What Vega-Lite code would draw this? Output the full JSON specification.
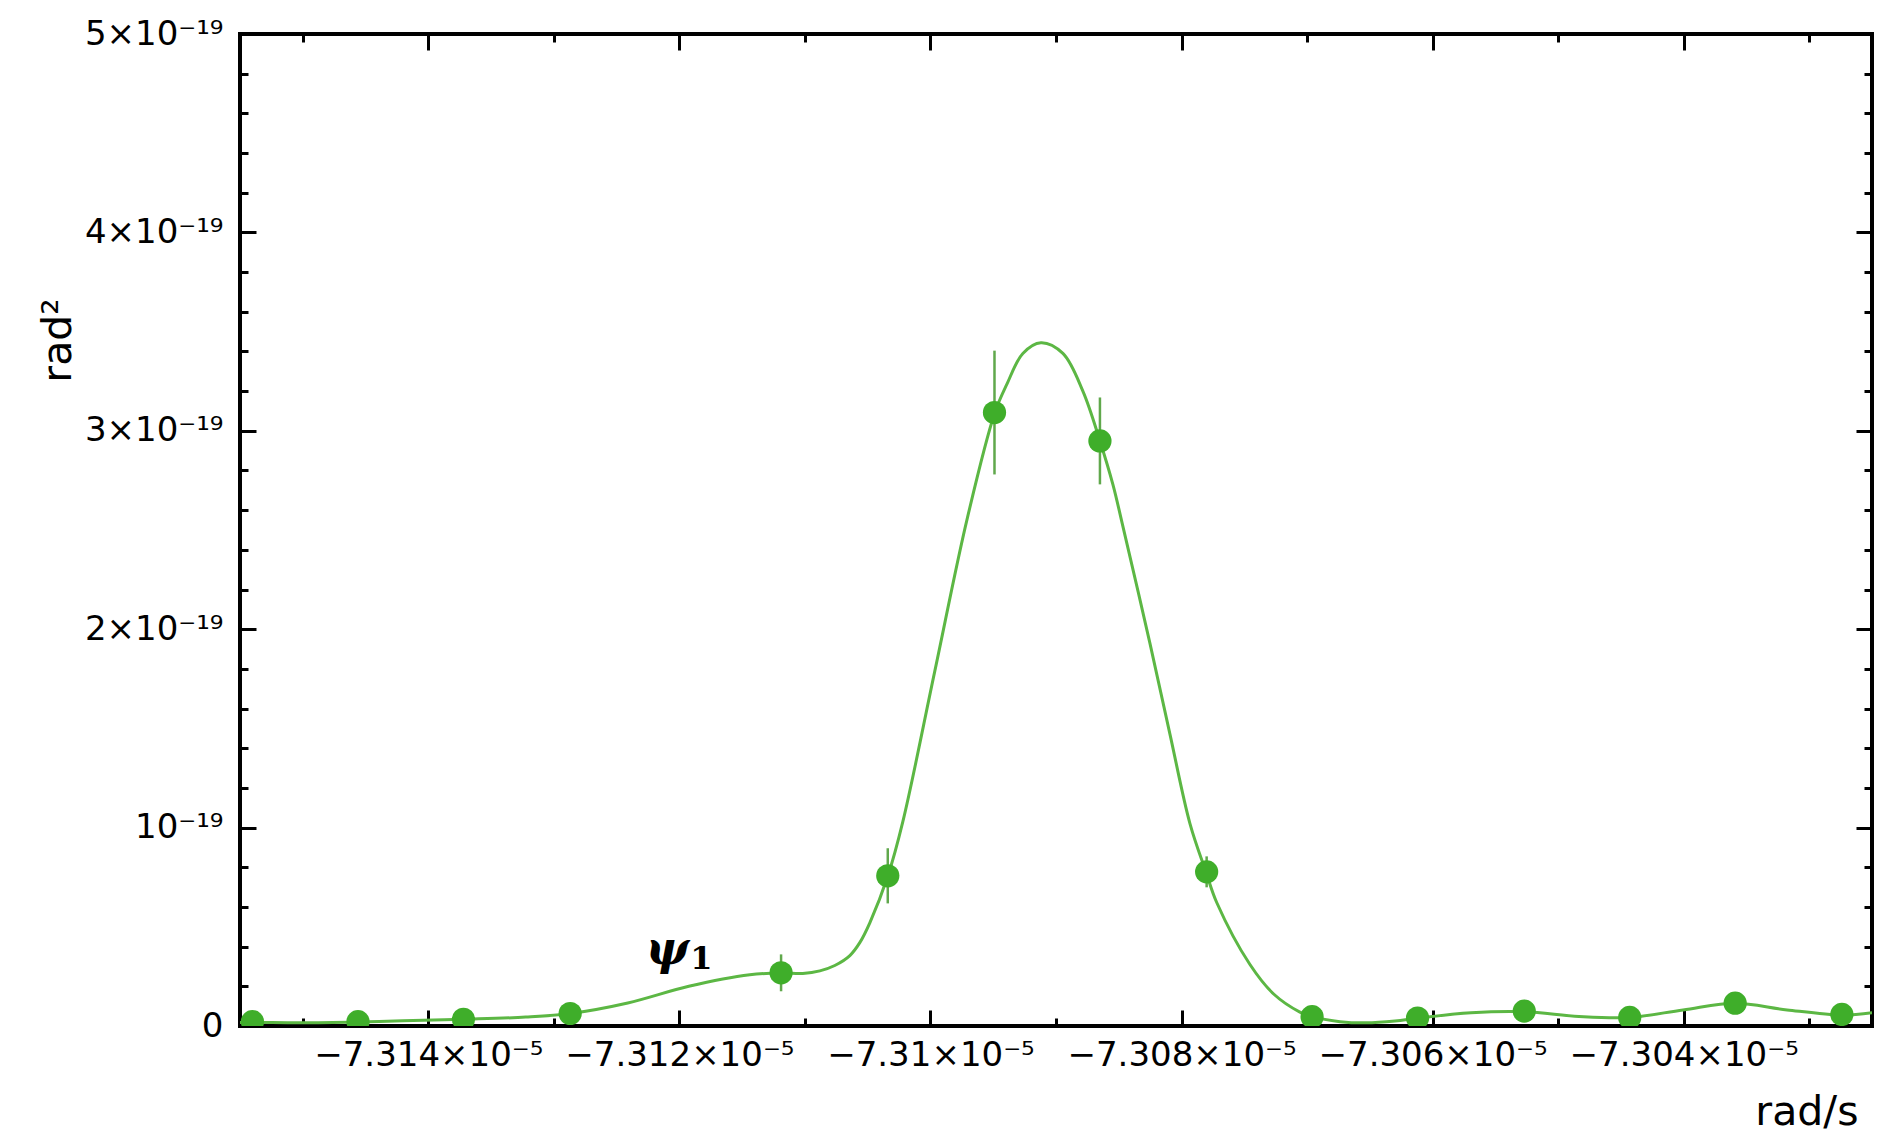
{
  "$schema": "https://vega.github.io/schema/vega-lite/v6.json",
  "width": 1632,
  "height": 992,
  "autosize": {"type": "none"},
  "padding": {"left": 240, "top": 34, "right": 7, "bottom": 107},
  "background": "white",
  "config": {
    "view": {"stroke": "#000000", "strokeWidth": 4},
    "axis": {
      "domain": false, "grid": false, "tickColor": "#000000", "tickWidth": 3,
      "labelFont": "DejaVu Sans", "labelFontSize": 34, "labelColor": "#000000", "labelLimit": 0,
      "titleFont": "DejaVu Sans", "titleFontSize": 41, "titleFontWeight": "normal", "titleColor": "#000000",
      "labelFlush": false, "labelOverlap": false
    }
  },
  "datasets": {
    "points": [
      {"x": -7.315401e-5, "y": 2.2e-21},
      {"x": -7.31456e-5, "y": 2.2e-21},
      {"x": -7.31372e-5, "y": 3.4e-21},
      {"x": -7.31287e-5, "y": 6.3e-21},
      {"x": -7.31119e-5, "y": 2.68e-20},
      {"x": -7.31034e-5, "y": 7.57e-20},
      {"x": -7.30949e-5, "y": 3.092e-19},
      {"x": -7.30865e-5, "y": 2.949e-19},
      {"x": -7.3078e-5, "y": 7.77e-20},
      {"x": -7.30696e-5, "y": 4.7e-21},
      {"x": -7.30612e-5, "y": 4.0e-21},
      {"x": -7.30527e-5, "y": 7.5e-21},
      {"x": -7.30443e-5, "y": 4.3e-21},
      {"x": -7.30359e-5, "y": 1.15e-20},
      {"x": -7.30274e-5, "y": 5.8e-21}
    ],
    "errors": [
      {"x": -7.31119e-5, "lo": 1.75e-20, "hi": 3.61e-20},
      {"x": -7.31034e-5, "lo": 6.18e-20, "hi": 8.96e-20},
      {"x": -7.30949e-5, "lo": 2.78e-19, "hi": 3.404e-19},
      {"x": -7.30865e-5, "lo": 2.73e-19, "hi": 3.168e-19},
      {"x": -7.3078e-5, "lo": 6.99e-20, "hi": 8.55e-20}
    ],
    "curve": [
      {"x": -7.315503e-5, "y": 1.7e-21},
      {"x": -7.315399e-5, "y": 1.8e-21},
      {"x": -7.315017e-5, "y": 1.6e-21},
      {"x": -7.314563e-5, "y": 2.0e-21},
      {"x": -7.314204e-5, "y": 2.6e-21},
      {"x": -7.313718e-5, "y": 3.4e-21},
      {"x": -7.313224e-5, "y": 4.5e-21},
      {"x": -7.312868e-5, "y": 6.3e-21},
      {"x": -7.312411e-5, "y": 1.16e-20},
      {"x": -7.311925e-5, "y": 2.0e-20},
      {"x": -7.311439e-5, "y": 2.58e-20},
      {"x": -7.311184e-5, "y": 2.67e-20},
      {"x": -7.311017e-5, "y": 2.65e-20},
      {"x": -7.310881e-5, "y": 2.78e-20},
      {"x": -7.310762e-5, "y": 3.05e-20},
      {"x": -7.310642e-5, "y": 3.55e-20},
      {"x": -7.310563e-5, "y": 4.2e-20},
      {"x": -7.310483e-5, "y": 5.2e-20},
      {"x": -7.310339e-5, "y": 7.57e-20},
      {"x": -7.31022e-5, "y": 1.03e-19},
      {"x": -7.309965e-5, "y": 1.79e-19},
      {"x": -7.30971e-5, "y": 2.55e-19},
      {"x": -7.309487e-5, "y": 3.092e-19},
      {"x": -7.309391e-5, "y": 3.235e-19},
      {"x": -7.309264e-5, "y": 3.39e-19},
      {"x": -7.30912e-5, "y": 3.444e-19},
      {"x": -7.308945e-5, "y": 3.39e-19},
      {"x": -7.308786e-5, "y": 3.2e-19},
      {"x": -7.30865e-5, "y": 2.949e-19},
      {"x": -7.308547e-5, "y": 2.73e-19},
      {"x": -7.308475e-5, "y": 2.54e-19},
      {"x": -7.308252e-5, "y": 1.93e-19},
      {"x": -7.308092e-5, "y": 1.47e-19},
      {"x": -7.307933e-5, "y": 1.02e-19},
      {"x": -7.307806e-5, "y": 7.77e-20},
      {"x": -7.307718e-5, "y": 6.2e-20},
      {"x": -7.307455e-5, "y": 3.1e-20},
      {"x": -7.307264e-5, "y": 1.6e-20},
      {"x": -7.307057e-5, "y": 7.0e-21},
      {"x": -7.306961e-5, "y": 4.7e-21},
      {"x": -7.306738e-5, "y": 2.2e-21},
      {"x": -7.306531e-5, "y": 1.6e-21},
      {"x": -7.3063e-5, "y": 2.5e-21},
      {"x": -7.306116e-5, "y": 4.0e-21},
      {"x": -7.305694e-5, "y": 6.7e-21},
      {"x": -7.305264e-5, "y": 7.2e-21},
      {"x": -7.304834e-5, "y": 4.8e-21},
      {"x": -7.304435e-5, "y": 4.3e-21},
      {"x": -7.304005e-5, "y": 8.1e-21},
      {"x": -7.303591e-5, "y": 1.15e-20},
      {"x": -7.303176e-5, "y": 8.1e-21},
      {"x": -7.302738e-5, "y": 5.5e-21},
      {"x": -7.302499e-5, "y": 6.7e-21}
    ],
    "psi": [
      {"x": -7.312095e-5, "y": 3.85e-20, "text": "ψ"}
    ],
    "sub": [
      {"x": -7.311825e-5, "y": 3.4e-20, "text": "1"}
    ]
  },
  "resolve": {"axis": {"x": "independent", "y": "independent"}},
  "layer": [
    {
      "data": {"name": "curve"},
      "mark": {"type": "line", "color": "#5cb744", "strokeWidth": 3, "interpolate": "catmull-rom", "clip": true},
      "encoding": {
        "x": {"field": "x", "type": "quantitative",
          "scale": {"domain": [-7.3155e-5, -7.3025e-5], "nice": false, "zero": false},
          "axis": {"orient": "bottom", "values": [-7.314e-5, -7.312e-5, -7.31e-5, -7.308e-5, -7.306e-5, -7.304e-5],
            "labelExpr": "format(datum.value*1e5, '.3~f') + '×10⁻⁵'",
            "tickSize": -16, "labelPadding": 28, "labelBaseline": "top", "labelAlign": "center",
            "title": "rad/s", "titleX": 1618, "titleY": 98, "titleAlign": "right", "titleBaseline": "alphabetic"}},
        "y": {"field": "y", "type": "quantitative",
          "scale": {"domain": [0, 5e-19], "nice": false, "zero": true},
          "axis": {"orient": "left", "values": [0, 1e-19, 2e-19, 3e-19, 4e-19, 5e-19],
            "labelExpr": "datum.value == 0 ? '0' : (round(datum.value*1e19) == 1 ? '10⁻¹⁹' : round(datum.value*1e19) + '×10⁻¹⁹')",
            "tickSize": -16, "labelPadding": 33, "labelAlign": "right", "labelBaseline": "middle",
            "title": "rad²", "titleX": -170, "titleY": 306, "titleAngle": -90, "titleAlign": "center", "titleBaseline": "alphabetic"}}
      }
    },
    {
      "data": {"name": "errors"},
      "mark": {"type": "rule", "color": "#60a84c", "strokeWidth": 2.5},
      "encoding": {
        "x": {"field": "x", "type": "quantitative",
          "scale": {"domain": [-7.3155e-5, -7.3025e-5], "nice": false, "zero": false},
          "axis": {"orient": "bottom", "values": [-7.315e-5, -7.313e-5, -7.311e-5, -7.309e-5, -7.307e-5, -7.305e-5, -7.303e-5],
            "labels": false, "tickSize": -8, "title": null}},
        "y": {"field": "lo", "type": "quantitative",
          "scale": {"domain": [0, 5e-19], "nice": false, "zero": true},
          "axis": {"orient": "left", "values": [2e-20, 4e-20, 6e-20, 8e-20, 1.2e-19, 1.4e-19, 1.6e-19, 1.8e-19, 2.2e-19, 2.4e-19, 2.6e-19, 2.8e-19, 3.2e-19, 3.4e-19, 3.6e-19, 3.8e-19, 4.2e-19, 4.4e-19, 4.6e-19, 4.8e-19],
            "labels": false, "tickSize": -8, "title": null}},
        "y2": {"field": "hi"}
      }
    },
    {
      "data": {"name": "points"},
      "mark": {"type": "point", "shape": "circle", "filled": true, "color": "#3fae2a", "opacity": 1, "size": 540, "clip": true},
      "encoding": {
        "x": {"field": "x", "type": "quantitative",
          "scale": {"domain": [-7.3155e-5, -7.3025e-5], "nice": false, "zero": false},
          "axis": {"orient": "top", "values": [-7.314e-5, -7.312e-5, -7.31e-5, -7.308e-5, -7.306e-5, -7.304e-5],
            "labels": false, "tickSize": -16, "title": null}},
        "y": {"field": "y", "type": "quantitative",
          "scale": {"domain": [0, 5e-19], "nice": false, "zero": true},
          "axis": {"orient": "right", "values": [0, 1e-19, 2e-19, 3e-19, 4e-19, 5e-19],
            "labels": false, "tickSize": -16, "title": null}}
      }
    },
    {
      "data": {"name": "psi"},
      "mark": {"type": "text", "font": "DejaVu Serif", "fontStyle": "italic", "fontWeight": "bold", "fontSize": 46, "color": "#000000", "align": "center", "baseline": "middle"},
      "encoding": {
        "x": {"field": "x", "type": "quantitative",
          "scale": {"domain": [-7.3155e-5, -7.3025e-5], "nice": false, "zero": false},
          "axis": {"orient": "top", "values": [-7.315e-5, -7.313e-5, -7.311e-5, -7.309e-5, -7.307e-5, -7.305e-5, -7.303e-5],
            "labels": false, "tickSize": -8, "title": null}},
        "y": {"field": "y", "type": "quantitative",
          "scale": {"domain": [0, 5e-19], "nice": false, "zero": true},
          "axis": {"orient": "right", "values": [2e-20, 4e-20, 6e-20, 8e-20, 1.2e-19, 1.4e-19, 1.6e-19, 1.8e-19, 2.2e-19, 2.4e-19, 2.6e-19, 2.8e-19, 3.2e-19, 3.4e-19, 3.6e-19, 3.8e-19, 4.2e-19, 4.4e-19, 4.6e-19, 4.8e-19],
            "labels": false, "tickSize": -8, "title": null}},
        "text": {"field": "text"}
      }
    },
    {
      "data": {"name": "sub"},
      "mark": {"type": "text", "font": "DejaVu Serif", "fontWeight": "bold", "fontSize": 32, "color": "#000000", "align": "center", "baseline": "middle"},
      "encoding": {
        "x": {"field": "x", "type": "quantitative",
          "scale": {"domain": [-7.3155e-5, -7.3025e-5], "nice": false, "zero": false}, "axis": null},
        "y": {"field": "y", "type": "quantitative",
          "scale": {"domain": [0, 5e-19], "nice": false, "zero": true}, "axis": null},
        "text": {"field": "text"}
      }
    }
  ]
}
